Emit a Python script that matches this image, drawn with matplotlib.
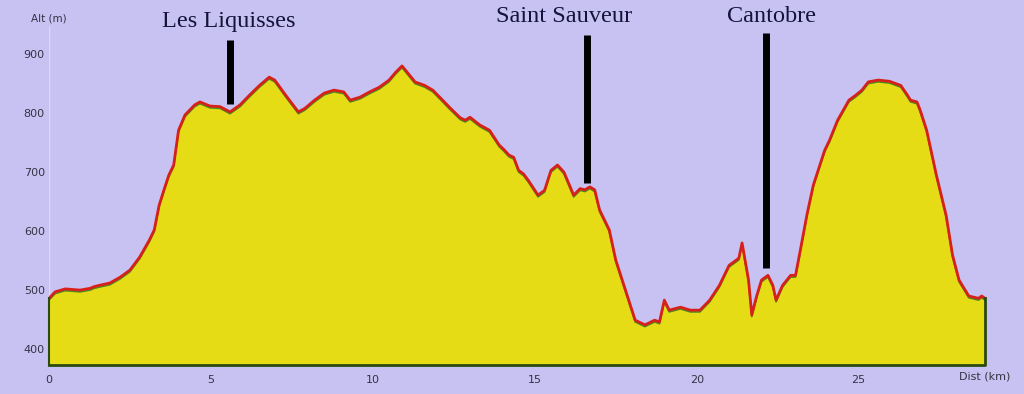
import numpy as np
import matplotlib.pyplot as plt

# elevation profile (distance km, altitude m)
dist = [0.0, 0.19, 0.5, 0.96, 1.27, 1.4, 1.55, 1.88, 2.2, 2.5, 2.8, 3.1, 3.25, 3.4, 3.55,
        3.7, 3.85, 4.0, 4.2, 4.5, 4.66, 4.97, 5.28, 5.59, 5.9, 6.2, 6.5, 6.8, 6.97,
        7.3, 7.7, 7.9, 8.2, 8.5, 8.8, 9.1, 9.3, 9.6, 9.9, 10.2, 10.5, 10.7, 10.9,
        11.05, 11.3, 11.6, 11.85, 12.1, 12.4, 12.7, 12.85, 13.0, 13.3, 13.6, 13.9,
        14.05, 14.2, 14.35, 14.5, 14.65, 14.8, 15.1, 15.3, 15.5, 15.7, 15.9, 16.2,
        16.4, 16.55, 16.7, 16.85, 17.0, 17.3, 17.5, 17.8, 18.1, 18.4, 18.7, 18.85,
        19.0, 19.15, 19.5, 19.8, 20.1, 20.4, 20.7, 21.0, 21.3, 21.4, 21.6, 21.7,
        21.85, 22.0, 22.2, 22.35, 22.45, 22.65, 22.9, 23.05, 23.2, 23.4, 23.6,
        23.95, 24.1, 24.35, 24.7, 24.9, 25.1, 25.3, 25.6, 25.95, 26.3, 26.5, 26.6,
        26.8, 26.9, 27.1, 27.4, 27.7, 27.9, 28.1, 28.4, 28.7, 28.8, 28.9]
alt = [486, 497, 502, 500, 503, 506, 508, 512, 522, 534, 556, 585, 602, 644, 670,
       695, 712, 771, 797, 814, 819, 812, 811, 802, 814, 831, 847, 861, 856,
       831, 802, 808, 822, 834, 839, 836, 822, 827, 836, 844, 856, 869, 880,
       870, 853, 847, 839, 825, 808, 792, 788, 793, 780, 771, 746,
       738, 729, 725, 703, 697, 686, 661, 669, 703, 712, 700, 661,
       672, 670, 675, 670, 636, 602, 551, 500, 449, 441, 449, 446,
       483, 466, 471, 466, 466, 483, 508, 542, 554, 580, 517, 458,
       490, 517, 525, 508, 483, 508, 525, 525, 568, 627, 678,
       737, 754, 788, 822, 830, 839, 853, 856, 854, 847, 831, 822,
       819, 805, 771, 695, 627, 559, 517, 490, 486, 490, 486]

places = ["Les Liquisses", "Saint Sauveur", "Cantobre"]
place_text_x = [5.55, 15.9, 22.3]
place_text_y = [956, 963, 963]
place_line_x = [5.6, 16.6, 22.15]
place_line_top = [924, 932, 936]
place_line_bottom = [815, 681, 537]

xticks = [0, 5, 10, 15, 20, 25]
yticks = [400, 500, 600, 700, 800, 900]

bg = '#c8c2f2'
fig = plt.figure(figsize=(10.24, 3.94), dpi=100, facecolor=bg)
ax = fig.add_axes([49/1024, 29/394, 0.933, 338/394])
ax.set_facecolor(bg)

ymin = 373
ax.fill_between(dist, alt, ymin, color='#e6dc16', zorder=2)
ax.plot(dist, np.array(alt) - 3, color='#4a8a20', lw=1.2, zorder=3)
ax.plot(dist, alt, color='#d8201a', lw=2.0, zorder=4)
ax.plot([dist[0], dist[-1], dist[-1]], [ymin, ymin, alt[-1]], color='#2a4a10', lw=2,
        zorder=5, clip_on=False)
ax.plot([dist[0], dist[0]], [ymin, alt[0]], color='#2a4a10', lw=1.5, zorder=5, clip_on=False)

ax.set_xlim(0, 29.5)
ax.set_ylim(ymin, 946)
for s in ax.spines.values():
    s.set_visible(False)
ax.axvline(0, color='#dcd8f8', lw=1, zorder=1)

ax.set_xticks(xticks)
ax.set_yticks(yticks)
ax.tick_params(axis='x', length=0, labelsize=8, labelcolor='#333344', pad=7)
ax.tick_params(axis='y', length=0, labelsize=8, labelcolor='#333344', pad=3)
ax.text(28.9, ymin - 20, 'Dist (km)', ha='center', va='center', fontsize=8, color='#333344')
ax.text(0, 960, 'Alt (m)', ha='center', va='center', fontsize=7.5, color='#333344', clip_on=False)

for name, tx, ty, lx, lt, lb in zip(places, place_text_x, place_text_y, place_line_x,
                                    place_line_top, place_line_bottom):
    ax.text(tx, ty, name, ha='center', va='center', fontsize=17.5, family='Liberation Serif',
            color='#14143a', clip_on=False, zorder=6)
    ax.plot([lx, lx], [lb, lt], color='black', lw=5, solid_capstyle='butt', zorder=6, clip_on=False)

fig.savefig('out.png', dpi=100, facecolor=bg)
